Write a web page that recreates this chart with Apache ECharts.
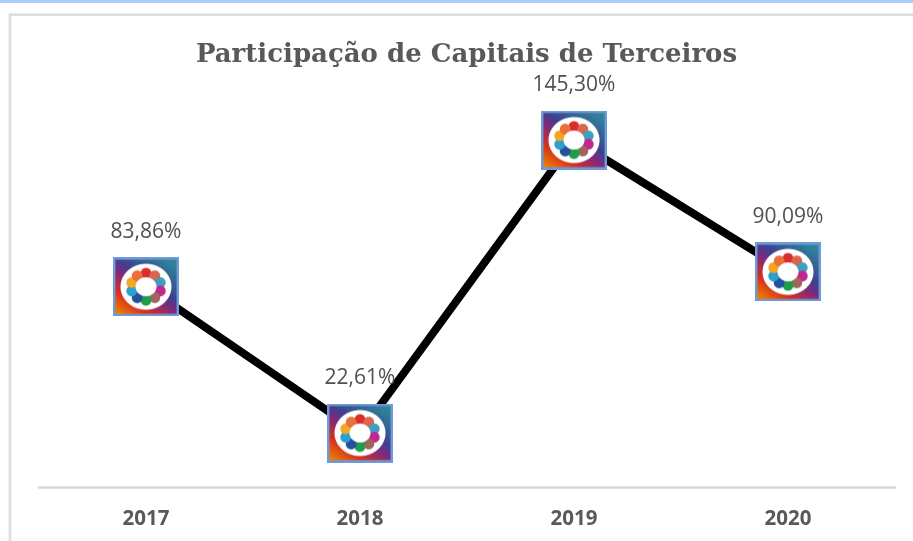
<!DOCTYPE html>
<html><head><meta charset="utf-8">
<style>html,body{margin:0;padding:0;background:#fff}#c{width:913px;height:541px}</style>
<script src="https://cdn.jsdelivr.net/npm/echarts@6/dist/echarts.min.js"></script>
</head><body><div id="c"></div>
<script>
var categories = ['2017','2018','2019','2020'];
var values = [83.86,22.61,145.30,90.09];
var chartTitle = 'Participação de Capitais de Terceiros';

function icon(){
  var s=4,W=66*s,H=59*s,c=document.createElement('canvas');c.width=W;c.height=H;
  var x=c.getContext('2d');
  var g=x.createLinearGradient(0.15*W,1.05*H,0.85*W,-0.05*H);
  g.addColorStop(0,'#f08a00');g.addColorStop(0.24,'#d8301f');g.addColorStop(0.46,'#7d2a80');g.addColorStop(0.58,'#40408f');g.addColorStop(0.9,'#2f7f9a');g.addColorStop(1,'#2f8a9c');
  x.fillStyle=g;x.fillRect(0,0,W,H);
  x.strokeStyle='#6f9ad8';x.lineWidth=2.5*s;x.strokeRect(1.2*s,1.2*s,W-2.4*s,H-2.4*s);
  var cx=W/2,cy=H/2;
  x.fillStyle='#fff';x.beginPath();x.ellipse(cx,cy,25.5*s,23*s,0,0,7);x.fill();
  var order=['#dd2c2c','#d9664f','#3f9fc0','#c2278f','#a0655a','#1f9e4a','#27509b','#2aa0d0','#f5a623','#e8703a'];
  var n=order.length;
  for(var i=0;i<n;i++){var a=-Math.PI/2+i*2*Math.PI/n;
    x.fillStyle=order[i];x.beginPath();x.arc(cx+15*s*Math.cos(a),cy+13.5*s*Math.sin(a),5.4*s,0,7);x.fill();}
  x.fillStyle='#fff';x.beginPath();x.ellipse(cx,cy,10.5*s,9.5*s,0,0,7);x.fill();
  return 'image://'+c.toDataURL();
}
var chart=echarts.init(document.getElementById('c'),null,{renderer:'canvas'});
chart.setOption({
  animation:false,
  backgroundColor:'#fff',
  title:{text:chartTitle,left:461.5,top:37,textAlign:'center',textStyle:{fontFamily:'DejaVu Serif',fontWeight:'bold',fontSize:26,color:'#595959'}},
  grid:{left:39,right:18,top:9.4,bottom:54},
  xAxis:{type:'category',data:categories,axisTick:{show:false},
    axisLine:{lineStyle:{color:'#d9d9d9',width:2.5}},
    axisLabel:{margin:22,fontFamily:'Open Sans',fontWeight:'bold',fontSize:20.5,color:'#595959'}},
  yAxis:{type:'value',min:0,max:200,show:false,splitLine:{show:false}},
  series:[{type:'line',data:values,symbol:icon(),symbolSize:[66,59],showAllSymbol:true,
    lineStyle:{color:'#000',width:8},z:3,
    label:{show:true,position:'top',distance:15,fontFamily:'Open Sans',fontSize:21,color:'#505050',
      formatter:function(p){return p.value.toFixed(2).replace('.',',')+'%';}}}],
  graphic:[
    {type:'rect',shape:{x:0,y:0,width:913,height:3},style:{fill:'#a9cdf7'},silent:true},
    {type:'polyline',shape:{points:[[10,541],[10,14.7],[913,14.7]]},style:{stroke:'#dedede',lineWidth:2.8,fill:null},silent:true}
  ]
});
</script></body></html>
